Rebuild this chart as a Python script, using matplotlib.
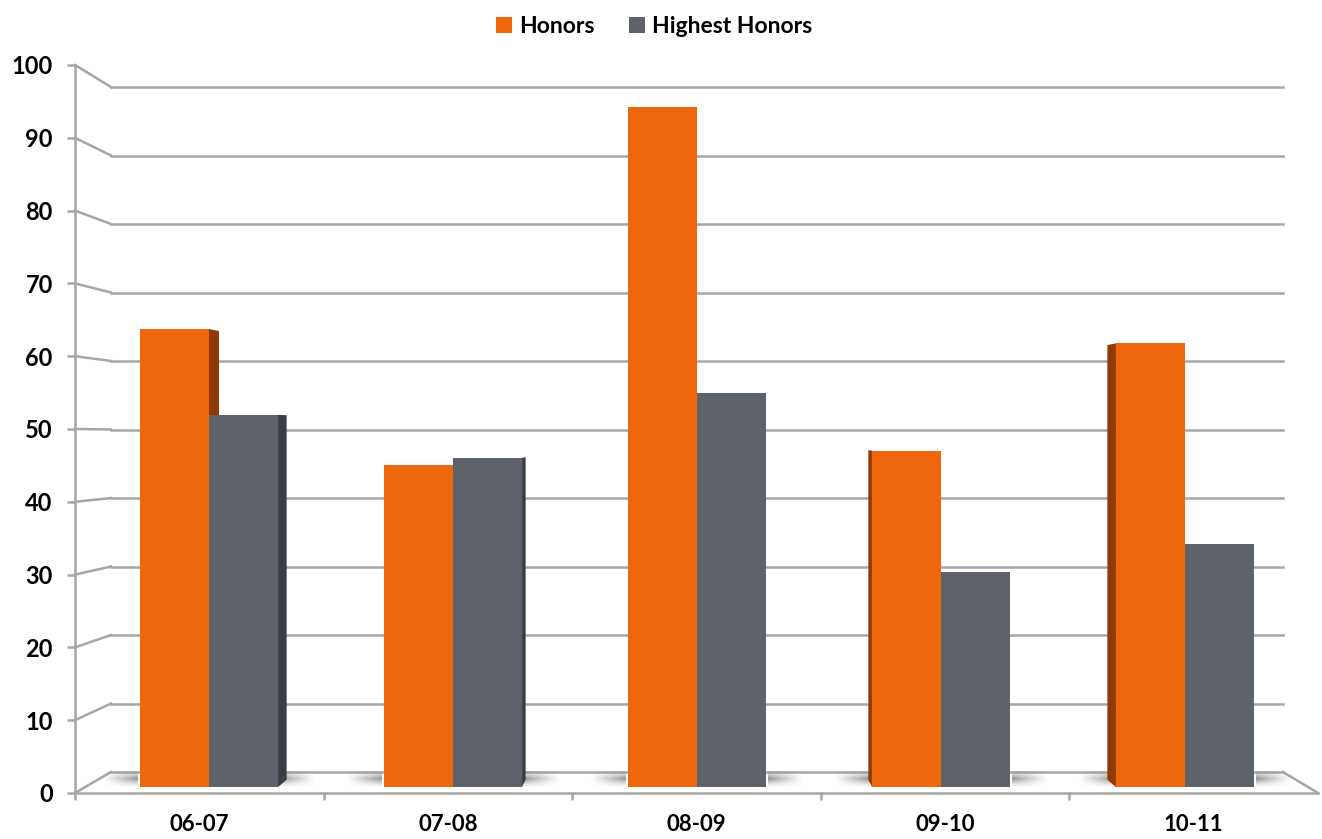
import numpy as np
import matplotlib
matplotlib.use("Agg")
import matplotlib.pyplot as plt
from matplotlib.patches import Polygon

# datos
categorias = ["06-07", "07-08", "08-09", "09-10", "10-11"]
honors = [64, 45, 95, 47, 62]
highest_honors = [52, 46, 55, 30, 34]
ticks_y = [0, 10, 20, 30, 40, 50, 60, 70, 80, 90, 100]

W, H = 1322, 839
COR_GRADE = "#A6A6A6"
COR_HON = "#EE670C"
COR_HON_LADO = "#8F3A04"
COR_HIGH = "#5E626A"
COR_HIGH_LADO = "#3A3D43"
FONTE = "Lato"


def caixa(x0, y0, x1, y1):
    # pixels (topo-esquerda) -> fracao da figura
    return [x0 / W, (H - y1) / H, (x1 - x0) / W, (y1 - y0) / H]


fig = plt.figure(figsize=(W / 100, H / 100), dpi=100)

# parede do fundo (em pixels)
parede = fig.add_axes([0, 0, 1, 1], zorder=0)
parede.set_xlim(0, W)
parede.set_ylim(H, 0)
parede.axis("off")
for v in ticks_y:
    y_fundo = 772 - v * 6.85
    y_frente = 793 - v * 7.28
    parede.plot([111, 1283], [y_fundo, y_fundo], color=COR_GRADE, lw=1.8)
    parede.plot([75, 111], [y_frente, y_fundo], color=COR_GRADE, lw=1.8)
parede.plot([1283, 1318], [772, 793], color=COR_GRADE, lw=1.8)

# eixo da frente
frente = fig.add_axes(caixa(75, 65, 1318, 793), zorder=1)
frente.patch.set_alpha(0)
frente.set_xlim(-0.5, 4.5)
frente.set_ylim(0, 100)
for s in ["top", "right"]:
    frente.spines[s].set_visible(False)
for s in ["left", "bottom"]:
    frente.spines[s].set_color(COR_GRADE)
    frente.spines[s].set_linewidth(1.8)
frente.set_yticks(ticks_y)
frente.set_yticklabels([str(t) for t in ticks_y])
frente.tick_params(axis="y", length=6, width=1.8, color=COR_GRADE, pad=10)
frente.set_xticks(range(len(categorias)))
frente.set_xticklabels(categorias)
frente.set_xticks([-0.5, 0.5, 1.5, 2.5, 3.5], minor=True)
frente.tick_params(axis="x", which="major", length=0, pad=15)
frente.tick_params(axis="x", which="minor", length=5, width=1.8, color=COR_GRADE)
for lab in frente.get_xticklabels():
    lab.set_fontfamily(FONTE)
    lab.set_fontweight("bold")
    lab.set_fontsize(16)
for lab in frente.get_yticklabels():
    lab.set_fontfamily(FONTE)
    lab.set_fontweight("bold")
    lab.set_fontsize(17)

# barras
ax = fig.add_axes(caixa(87, 71.4, 1307, 787), zorder=2)
ax.patch.set_alpha(0)
ax.set_xlim(-0.5, 4.5)
ax.set_ylim(0, 100)
ax.axis("off")

x = np.arange(len(categorias))
larg = 0.283
k = 0.0205
cx, cy = 2.0, 49.9

# sombras no chao
grad = np.linspace(0, 1, 64)[None, :] * np.array([0.2, 0.6, 1.0, 0.6, 0.2])[:, None]
sombra = np.zeros(grad.shape + (4,))
sombra[..., :3] = 0.45
for xc in x:
    esq = xc - larg - 0.01
    dir_ = xc + larg + 0.01
    a = sombra.copy()
    a[..., 3] = grad * 0.75
    ax.imshow(a, extent=(esq - 0.14, esq, 0.2, 2.2), aspect="auto", zorder=0.5, interpolation="bilinear")
    a2 = sombra.copy()
    a2[..., 3] = grad[:, ::-1] * 0.75
    ax.imshow(a2, extent=(dir_, dir_ + 0.14, 0.2, 2.2), aspect="auto", zorder=0.5, interpolation="bilinear")
ax.set_xlim(-0.5, 4.5)
ax.set_ylim(0, 100)


def lados(xs, valores, cor):
    for xc, v in zip(xs, valores):
        if xc < cx:
            xe = xc + larg / 2
        else:
            xe = xc - larg / 2
        dx = (cx - xe) * k
        pts = [(xe, 0), (xe, v), (xe + dx, v + (cy - v) * k), (xe + dx, cy * k)]
        ax.add_patch(Polygon(pts, closed=True, facecolor=cor, edgecolor="none", zorder=1))


lados(x - larg / 2, honors, COR_HON_LADO)
lados(x + larg / 2, highest_honors, COR_HIGH_LADO)
b1 = ax.bar(x - larg / 2, honors, larg, color=COR_HON, zorder=2, label="Honors")
b2 = ax.bar(x + larg / 2, highest_honors, larg, color=COR_HIGH, zorder=2, label="Highest Honors")

leg = fig.legend(handles=[b1, b2], loc="upper center", bbox_to_anchor=(0.495, 1.006), ncol=2,
                 frameon=False, handlelength=0.7, handleheight=0.7, handletextpad=0.3,
                 columnspacing=1.5, prop={"family": FONTE, "weight": "bold", "size": 16.5})

fig.savefig("out.png", dpi=100)
